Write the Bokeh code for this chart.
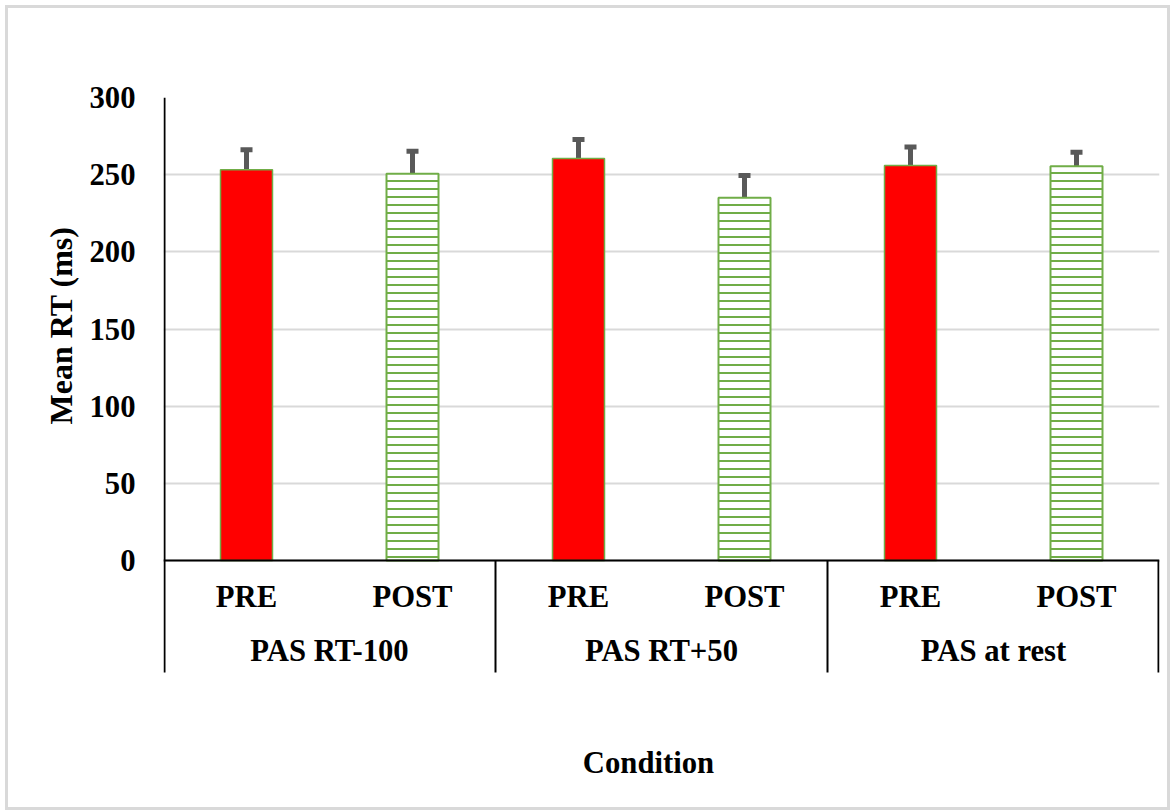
from bokeh.plotting import figure
from bokeh.models import (FactorRange, Range1d, FixedTicker, Whisker, TeeHead,
                          ColumnDataSource, Title)
from bokeh.core.properties import value
from bokeh.embed import file_html
from bokeh.resources import INLINE

# ---------------- data ----------------
groups = ["PAS RT-100", "PAS RT+50", "PAS at rest"]
phases = ["PRE", "POST"]
pre_means = [253.2, 260.5, 256.0]
post_means = [250.6, 235.1, 255.5]
pre_err = [13.0, 12.3, 12.0]
post_err = [14.5, 14.4, 9.1]
y_ticks = [0, 50, 100, 150, 200, 250, 300]
y_title = "Mean RT (ms)"
x_title = "Condition"

# ---------------- layout constants ----------------
W, H = 1159, 799                   # canvas size of the chart
BORDER = 3
PAGE_X0, PAGE_Y0 = 8, 8            # page position of the canvas
MB_L, MB_T, MB_R, MB_B = 155, 89, 8, 8
Y_TOP = 300
ZERO_PX = 552                      # canvas pixel row of y = 0
PX = (ZERO_PX - MB_T) / Y_TOP      # pixels per data unit
Y_START = -(H - MB_B - ZERO_PX) / PX
SLOT_PX = (W - MB_L - MB_R) / 6.0
FONT = "Liberation Serif"
FS = "30.7px"
GREEN = "#70ad47"
TXT_SHIFT = 11                     # baseline correction for text glyphs

def ydat(page_y):
    return (PAGE_Y0 + ZERO_PX - (page_y - TXT_SHIFT)) / PX

factors = [(g, ph) for g in groups for ph in phases]

x_range = FactorRange(*factors, factor_padding=0, group_padding=0,
                      subgroup_padding=0, range_padding=0)

p = figure(x_range=x_range, y_range=Range1d(Y_START, Y_TOP),
           width=W, height=H,
           output_backend="svg", toolbar_location=None,
           min_border_left=MB_L, min_border_top=MB_T,
           min_border_right=MB_R, min_border_bottom=MB_B)
p.styles = {"outline": f"{BORDER}px solid #d9d9d9",
            "margin": f"{PAGE_Y0}px 0 0 {PAGE_X0}px"}
p.outline_line_color = None
p.background_fill_color = "white"
p.border_fill_color = "white"

# bars
pre_src = ColumnDataSource(dict(x=[(g, "PRE") for g in groups], top=pre_means,
                                hi=[m + e for m, e in zip(pre_means, pre_err)]))
post_src = ColumnDataSource(dict(x=[(g, "POST") for g in groups], top=post_means,
                                 hi=[m + e for m, e in zip(post_means, post_err)]))
BAR_W = 52 / SLOT_PX
p.vbar(x="x", top="top", width=BAR_W, source=pre_src, fill_color="#ff0000",
       line_color=GREEN, line_width=1.5)
p.vbar(x="x", top="top", width=BAR_W, source=post_src, fill_color="white",
       line_color=GREEN, line_width=2, hatch_pattern="horizontal_line",
       hatch_color=GREEN, hatch_weight=2, hatch_scale=8)

for src in (pre_src, post_src):
    w = Whisker(source=src, base="x", lower="top", upper="hi",
                line_color="#595959", line_width=5,
                upper_head=TeeHead(size=12, line_color="#595959", line_width=5),
                lower_head=None)
    p.add_layout(w)

# axes
p.xaxis.visible = False
p.xgrid.grid_line_color = None
p.ygrid.grid_line_color = "#d9d9d9"
p.ygrid.grid_line_width = 2
p.yaxis.ticker = FixedTicker(ticks=y_ticks)
p.yaxis.axis_line_color = None
p.yaxis.major_tick_line_color = None
p.yaxis.minor_tick_line_color = None
p.yaxis.major_tick_out = 0
p.yaxis.major_label_standoff = 28
p.yaxis.major_label_text_font = FONT
p.yaxis.major_label_text_font_style = "bold"
p.yaxis.major_label_text_font_size = FS
p.yaxis.major_label_text_color = "black"

p.add_layout(Title(text=y_title, align="right", offset=129, standoff=16,
                   text_font=FONT, text_font_style="bold",
                   text_font_size="32px", text_color="black"), "left")

# axis lines and group separators
one_px = 1.0 / SLOT_PX
y_low = -(672 - PAGE_Y0 - ZERO_PX) / PX
p.segment(x0=[0 + one_px, 0], y0=[y_low, 0], x1=[0 + one_px, 6], y1=[Y_TOP, 0],
          line_color="black", line_width=2)
p.segment(x0=[2, 4, 6 - one_px], y0=[0, 0, 0], x1=[2, 4, 6 - one_px],
          y1=[y_low] * 3, line_color="black", line_width=2)

# category labels
p.text(x=factors, y=[ydat(607)] * len(factors), text=[f[1] for f in factors],
       text_font=value(FONT), text_font_style="bold", text_font_size=FS,
       text_align="center", text_baseline="alphabetic", text_color="black")
p.text(x=groups, y=[ydat(661)] * len(groups), text=groups,
       text_font=value(FONT), text_font_style="bold", text_font_size=FS,
       text_align="center", text_baseline="alphabetic", text_color="black")
p.text(x=[(648 - PAGE_X0 - MB_L) / SLOT_PX], y=[ydat(773)], text=[x_title],
       text_font=value(FONT), text_font_style="bold", text_font_size=FS,
       text_align="center", text_baseline="alphabetic", text_color="black")

open("out.html", "w").write(file_html(p, INLINE))
